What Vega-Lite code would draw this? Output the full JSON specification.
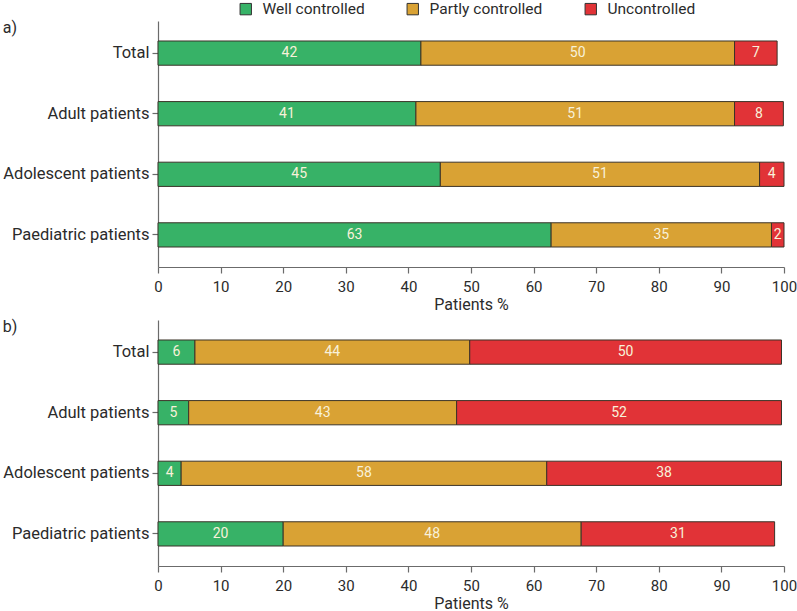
{
  "$schema": "https://vega.github.io/schema/vega-lite/v6.json",
  "padding": {"top": 1, "left": 2, "right": 0, "bottom": 0},
  "background": "white",
  "datasets": {
    "a": [
      {"group": "Total", "category": "Well controlled", "value": 42.0, "label": 42, "order": 1},
      {"group": "Total", "category": "Partly controlled", "value": 50.1, "label": 50, "order": 2},
      {"group": "Total", "category": "Uncontrolled", "value": 6.8, "label": 7, "order": 3},
      {"group": "Adult patients", "category": "Well controlled", "value": 41.2, "label": 41, "order": 1},
      {"group": "Adult patients", "category": "Partly controlled", "value": 50.9, "label": 51, "order": 2},
      {"group": "Adult patients", "category": "Uncontrolled", "value": 7.8, "label": 8, "order": 3},
      {"group": "Adolescent patients", "category": "Well controlled", "value": 45.1, "label": 45, "order": 1},
      {"group": "Adolescent patients", "category": "Partly controlled", "value": 51.0, "label": 51, "order": 2},
      {"group": "Adolescent patients", "category": "Uncontrolled", "value": 3.9, "label": 4, "order": 3},
      {"group": "Paediatric patients", "category": "Well controlled", "value": 62.8, "label": 63, "order": 1},
      {"group": "Paediatric patients", "category": "Partly controlled", "value": 35.2, "label": 35, "order": 2},
      {"group": "Paediatric patients", "category": "Uncontrolled", "value": 2.0, "label": 2, "order": 3}
    ],
    "b": [
      {"group": "Total", "category": "Well controlled", "value": 5.9, "label": 6, "order": 1},
      {"group": "Total", "category": "Partly controlled", "value": 43.9, "label": 44, "order": 2},
      {"group": "Total", "category": "Uncontrolled", "value": 49.8, "label": 50, "order": 3},
      {"group": "Adult patients", "category": "Well controlled", "value": 4.9, "label": 5, "order": 1},
      {"group": "Adult patients", "category": "Partly controlled", "value": 42.8, "label": 43, "order": 2},
      {"group": "Adult patients", "category": "Uncontrolled", "value": 51.9, "label": 52, "order": 3},
      {"group": "Adolescent patients", "category": "Well controlled", "value": 3.7, "label": 4, "order": 1},
      {"group": "Adolescent patients", "category": "Partly controlled", "value": 58.4, "label": 58, "order": 2},
      {"group": "Adolescent patients", "category": "Uncontrolled", "value": 37.5, "label": 38, "order": 3},
      {"group": "Paediatric patients", "category": "Well controlled", "value": 20.0, "label": 20, "order": 1},
      {"group": "Paediatric patients", "category": "Partly controlled", "value": 47.6, "label": 48, "order": 2},
      {"group": "Paediatric patients", "category": "Uncontrolled", "value": 30.9, "label": 31, "order": 3}
    ]
  },
  "spacing": 7,
  "vconcat": [
    {
      "width": 626,
      "height": 246,
      "title": {"text": "a)", "anchor": "start", "frame": "bounds", "offset": -15, "dx": 0},
      "data": {"name": "a"},
      "layer": [
        {
          "mark": {"type": "bar", "stroke": "#3b3328", "strokeWidth": 1},
          "encoding": {
            "y": {"field": "group", "type": "nominal", "sort": ["Total", "Adult patients", "Adolescent patients", "Paediatric patients"], "scale": {"paddingInner": 0.6, "paddingOuter": 0.33}, "axis": {"title": null}},
            "x": {"field": "value", "type": "quantitative", "stack": "zero", "scale": {"domain": [0, 100], "nice": false}, "axis": {"title": "Patients %", "values": [0, 10, 20, 30, 40, 50, 60, 70, 80, 90, 100]}},
            "order": {"field": "order", "type": "quantitative"},
            "color": {"field": "category", "type": "nominal", "sort": ["Well controlled", "Partly controlled", "Uncontrolled"], "scale": {"domain": ["Well controlled", "Partly controlled", "Uncontrolled"], "range": ["#37b267", "#d9a234", "#e13337"]}, "legend": {"title": null, "orient": "none", "legendX": 80, "legendY": -20}}
          }
        },
        {
          "mark": {"type": "text", "color": "#f8f1da", "fontSize": 14, "font": "Roboto", "baseline": "middle", "align": "center"},
          "encoding": {
            "y": {"field": "group", "type": "nominal", "sort": ["Total", "Adult patients", "Adolescent patients", "Paediatric patients"]},
            "x": {"field": "value", "type": "quantitative", "stack": "zero", "bandPosition": 0.5},
            "order": {"field": "order", "type": "quantitative"},
            "text": {"field": "label", "type": "quantitative"}
          }
        }
      ]
    },
    {
      "width": 626,
      "height": 246,
      "title": {"text": "b)", "anchor": "start", "frame": "bounds", "offset": -15, "dx": 0},
      "data": {"name": "b"},
      "layer": [
        {
          "mark": {"type": "bar", "stroke": "#3b3328", "strokeWidth": 1},
          "encoding": {
            "y": {"field": "group", "type": "nominal", "sort": ["Total", "Adult patients", "Adolescent patients", "Paediatric patients"], "scale": {"paddingInner": 0.6, "paddingOuter": 0.33}, "axis": {"title": null}},
            "x": {"field": "value", "type": "quantitative", "stack": "zero", "scale": {"domain": [0, 100], "nice": false}, "axis": {"title": "Patients %", "values": [0, 10, 20, 30, 40, 50, 60, 70, 80, 90, 100]}},
            "order": {"field": "order", "type": "quantitative"},
            "color": {"field": "category", "type": "nominal", "sort": ["Well controlled", "Partly controlled", "Uncontrolled"], "scale": {"domain": ["Well controlled", "Partly controlled", "Uncontrolled"], "range": ["#37b267", "#d9a234", "#e13337"]}, "legend": {"title": null, "orient": "none", "legendX": 80, "legendY": -20}}
          }
        },
        {
          "mark": {"type": "text", "color": "#f8f1da", "fontSize": 14, "font": "Roboto", "baseline": "middle", "align": "center"},
          "encoding": {
            "y": {"field": "group", "type": "nominal", "sort": ["Total", "Adult patients", "Adolescent patients", "Paediatric patients"]},
            "x": {"field": "value", "type": "quantitative", "stack": "zero", "bandPosition": 0.5},
            "order": {"field": "order", "type": "quantitative"},
            "text": {"field": "label", "type": "quantitative"}
          }
        }
      ]
    }
  ],
  "resolve": {"scale": {"color": "shared"}},
  "config": {
    "font": "Roboto",
    "view": {"stroke": null},
    "axis": {
      "labelFont": "Roboto", "labelFontSize": 16, "labelColor": "#2b2b2b",
      "titleFont": "Roboto", "titleFontSize": 16, "titleFontWeight": "normal", "titleColor": "#2b2b2b",
      "domainColor": "#6b6b6b", "tickColor": "#6b6b6b", "domainWidth": 1.2, "tickWidth": 1.2,
      "tickSize": 6, "grid": false
    },
    "axisX": {"labelPadding": 6, "titlePadding": 2, "labelFlush": false, "labelFontSize": 15},
    "axisY": {"labelPadding": 3, "labelFontSize": 16.5},
    "title": {"font": "Roboto", "fontSize": 16, "fontWeight": "normal", "color": "#2b2b2b"},
    "legend": {
      "direction": "horizontal", "labelFont": "Roboto", "labelFontSize": 15.5, "labelColor": "#2b2b2b",
      "symbolType": "square", "symbolSize": 130, "symbolStrokeColor": "#333333", "symbolStrokeWidth": 1, "symbolOpacity": 1,
      "columnPadding": 40, "labelOffset": 9
    }
  }
}
